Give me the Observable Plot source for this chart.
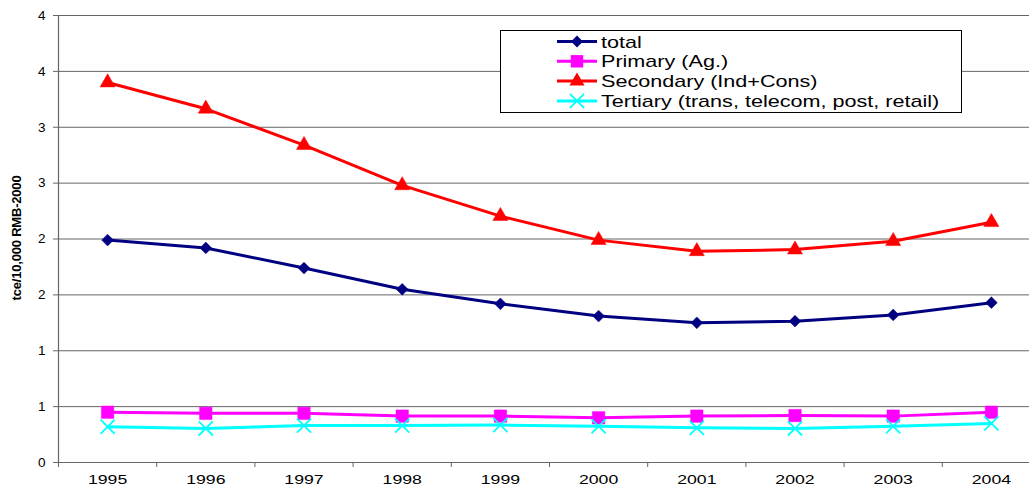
<!DOCTYPE html>
<html>
<head>
<meta charset="utf-8">
<script src="https://cdn.jsdelivr.net/npm/d3@7"></script>
<script src="https://cdn.jsdelivr.net/npm/@observablehq/plot@0.6"></script>
<style>
  html, body { margin: 0; padding: 0; background: #fff; overflow: hidden; }
  #wrap { position: relative; width: 1029px; height: 488px; overflow: hidden; font-family: "Liberation Sans", Arial, sans-serif; }
  #wrap > svg { max-width: none !important; }
  #legend { position: absolute; left: 500px; top: 30px; }
  #ylabel { position: absolute; left: 15.5px; top: 237.5px; transform: translate(-50%, -50%) rotate(-90deg);
            font-family: "Liberation Sans", Arial, sans-serif; font-weight: bold;
            font-size: 13px; letter-spacing: -0.2px; white-space: nowrap; color: #000; line-height: 1; }
</style>
</head>
<body>
<div id="wrap"></div>
<script>
const years = [1995, 1996, 1997, 1998, 1999, 2000, 2001, 2002, 2003, 2004];
const total = [1.99, 1.92, 1.74, 1.55, 1.42, 1.31, 1.25, 1.265, 1.32, 1.43];
const primary = [0.45, 0.44, 0.44, 0.415, 0.415, 0.40, 0.415, 0.42, 0.415, 0.45];
const secondary = [3.40, 3.165, 2.84, 2.48, 2.205, 1.99, 1.89, 1.905, 1.98, 2.15];
const tertiary = [0.32, 0.305, 0.33, 0.33, 0.335, 0.325, 0.31, 0.305, 0.325, 0.35];
const yTicks = [0, 0.5, 1, 1.5, 2, 2.5, 3, 3.5, 4];
const xBounds = [1994.5, 1995.5, 1996.5, 1997.5, 1998.5, 1999.5, 2000.5, 2001.5, 2002.5, 2003.5, 2004.5];

const seriesDefs = [
  {name: "total", values: total, color: "#000080", symbol: "diamond2", r: 5.3},
  {name: "Primary (Ag.)", values: primary, color: "#FF00FF", symbol: "square", r: 7.0},
  {name: "Secondary (Ind+Cons)", values: secondary, color: "#FF0000", symbol: "triangle", r: 5.6},
  {name: "Tertiary (trans, telecom, post, retail)", values: tertiary, color: "#00FFFF", symbol: "times", r: 6.5}
];

const rows = [];
for (const s of seriesDefs) years.forEach((yr, i) => rows.push({series: s.name, year: yr, value: s.values[i]}));

const marks = [
  Plot.gridY(yTicks, {stroke: "#666", strokeOpacity: 1, strokeWidth: 1}),
  Plot.ruleX([1994.5], {stroke: "#666", strokeWidth: 1.2}),
  Plot.ruleY([0], {stroke: "#666", strokeWidth: 1.2}),
  Plot.axisY(yTicks, {tickSize: 5, tickPadding: 8, tickFormat: d => String(Math.round(d)), fontSize: 13.5, stroke: "#666", label: null}),
  Plot.axisX(xBounds, {tickSize: 5, tickFormat: () => "", stroke: "#666", label: null}),
  Plot.axisX(years, {tickSize: 0, tickPadding: 12, tickFormat: d => String(d), fontSize: 13, label: null})
];
for (const s of seriesDefs) {
  const data = rows.filter(d => d.series === s.name);
  marks.push(Plot.line(data, {x: "year", y: "value", stroke: s.color, strokeWidth: 3}));
  if (s.symbol === "times") {
    marks.push(Plot.dot(data, {x: "year", y: "value", symbol: s.symbol, r: s.r, stroke: s.color, strokeWidth: 1.8}));
  } else {
    marks.push(Plot.dot(data, {x: "year", y: "value", symbol: s.symbol, r: s.r, fill: s.color, stroke: s.color, strokeWidth: 0.5}));
  }
}

const chart = Plot.plot({
  width: 1040, height: 488,
  marginLeft: 58, marginRight: 0, marginTop: 15, marginBottom: 26,
  style: {fontFamily: "'Liberation Sans', Arial, sans-serif", fontSize: "13px", background: "#fff", color: "#000", overflow: "visible", maxWidth: "none"},
  x: {type: "linear", domain: [1994.5, 2004.5]},
  y: {domain: [0, 4]},
  marks
});
const wrap = document.getElementById("wrap");
wrap.appendChild(chart);

// widen year labels (reference text is horizontally stretched)
d3.select(chart).selectAll("text")
  .filter(function () { return /^\d{4}$/.test(this.textContent.trim()); })
  .attr("transform", function () { return (this.getAttribute("transform") || "") + " scale(1.36,1)"; });

// y-axis title
const yl = document.createElement("div");
yl.id = "ylabel";
yl.textContent = "tce/10,000 RMB-2000";
wrap.appendChild(yl);

// legend
const lg = d3.create("svg").attr("id", "legend").attr("width", 463).attr("height", 83);
lg.append("rect").attr("x", 0.5).attr("y", 0.5).attr("width", 461).attr("height", 82)
  .attr("fill", "#fff").attr("stroke", "#000").attr("stroke-width", 1);
const rowY = [11.5, 31.3, 51.1, 70.9];
seriesDefs.forEach((s, i) => {
  const g = lg.append("g").attr("transform", `translate(0,${rowY[i]})`);
  g.append("line").attr("x1", 57).attr("x2", 97).attr("y1", 0).attr("y2", 0)
    .attr("stroke", s.color).attr("stroke-width", 3);
  const sym = {diamond2: d3.symbolDiamond2, square: d3.symbolSquare, triangle: d3.symbolTriangle, times: d3.symbolTimes}[s.symbol];
  const path = g.append("path").attr("transform", "translate(77,0)")
    .attr("d", d3.symbol(sym, s.r * s.r * Math.PI)());
  if (s.symbol === "times") path.attr("fill", "none").attr("stroke", s.color).attr("stroke-width", 1.8);
  else path.attr("fill", s.color);
  g.append("text").attr("transform", "translate(101,6) scale(1.27,1)")
    .attr("font-size", 17).attr("font-family", "'Liberation Sans', Arial, sans-serif")
    .attr("fill", "#000").text(s.name);
});
wrap.appendChild(lg.node());
</script>
</body>
</html>
